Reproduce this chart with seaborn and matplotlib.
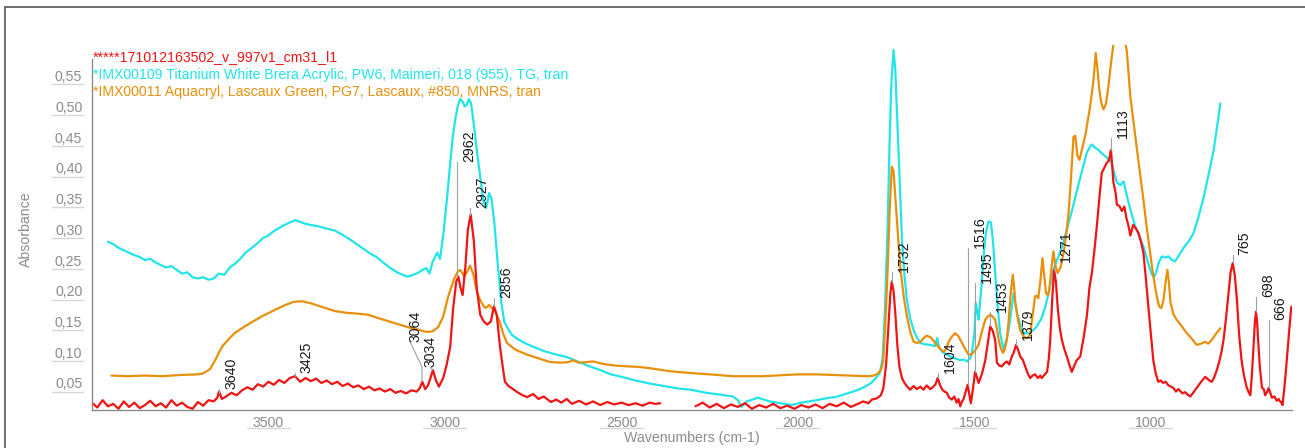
import numpy as np
import pandas as pd
import matplotlib
matplotlib.use("Agg")
import matplotlib.pyplot as plt
from matplotlib.lines import Line2D
from matplotlib.ticker import MultipleLocator, FixedLocator, FuncFormatter
import seaborn as sns

# ---------------- data ----------------
series_names = [
    "*****171012163502_v_997v1_cm31_l1",
    "*IMX00109 Titanium White Brera Acrylic, PW6, Maimeri, 018 (955), TG, tran",
    "*IMX00011 Aquacryl, Lascaux Green, PG7, Lascaux, #850, MNRS, tran",
]

# red sample spectrum, part before the CO2 gap
red_wn_1 = [4000, 3985, 3970, 3955, 3940, 3925, 3910, 3895, 3880, 3865, 3850, 3835, 3820, 3805, 3790,
            3775, 3760, 3745, 3730, 3715, 3700, 3685, 3670, 3655, 3645, 3640, 3632, 3620, 3605, 3590,
            3575, 3560, 3545, 3530, 3515, 3500, 3485, 3470, 3455, 3440, 3425, 3410, 3395, 3380, 3365,
            3350, 3335, 3320, 3305, 3290, 3275, 3260, 3245, 3230, 3215, 3200, 3185, 3170, 3155, 3140,
            3125, 3110, 3095, 3080, 3072, 3064, 3056, 3048, 3040, 3034, 3026, 3017, 3005, 2995, 2985,
            2977, 2968, 2962, 2956, 2950, 2942, 2935, 2927, 2918, 2910, 2900, 2890, 2880, 2870, 2861,
            2853, 2844, 2836, 2830, 2820, 2807, 2795, 2780, 2767, 2750, 2735, 2720, 2700, 2685, 2670,
            2655, 2640, 2620, 2600, 2580, 2560, 2540, 2520, 2500, 2480, 2460, 2440, 2420, 2405, 2390]
red_abs_1 = [.018, .010, .022, .012, .016, .008, .020, .011, .018, .009, .014, .021, .012, .017, .010,
             .022, .013, .018, .011, .008, .019, .013, .022, .020, .026, .036, .024, .028, .034, .030,
             .038, .043, .039, .048, .044, .052, .047, .055, .050, .058, .061, .052, .058, .053, .057,
             .050, .054, .048, .052, .045, .049, .043, .046, .040, .044, .038, .041, .036, .040, .034,
             .037, .033, .038, .036, .041, .052, .040, .046, .060, .071, .055, .044, .058, .080, .109,
             .170, .215, .223, .205, .193, .240, .300, .324, .280, .205, .161, .150, .145, .150, .175,
             .160, .109, .075, .052, .045, .040, .035, .030, .027, .032, .024, .028, .019, .023, .018,
             .024, .016, .021, .015, .020, .014, .019, .015, .018, .014, .017, .013, .018, .016, .017]

# red sample spectrum, part after the CO2 gap
red_wn_2 = [2290, 2270, 2250, 2230, 2210, 2190, 2170, 2150, 2130, 2110, 2090, 2070, 2050, 2030, 2010,
            1990, 1970, 1950, 1930, 1910, 1890, 1870, 1850, 1830, 1815, 1800, 1790, 1776, 1765, 1758,
            1750, 1743, 1738, 1734, 1729, 1724, 1718, 1712, 1705, 1698, 1690, 1682, 1672, 1663, 1653,
            1644, 1635, 1625, 1616, 1610, 1604, 1598, 1592, 1585, 1578, 1571, 1564, 1557, 1550, 1545,
            1540, 1535, 1531, 1525, 1519, 1514, 1510, 1504, 1498, 1493, 1488, 1483, 1479, 1474, 1469,
            1462, 1455, 1448, 1441, 1436, 1429, 1422, 1415, 1408, 1401, 1394, 1388, 1382, 1376, 1370,
            1363, 1356, 1349, 1342, 1335, 1328, 1320, 1313, 1309, 1302, 1294, 1289, 1285, 1279, 1274,
            1269, 1264, 1258, 1252, 1245, 1238, 1231, 1224, 1217, 1210, 1200, 1190, 1181, 1174, 1167,
            1160, 1153, 1146, 1139, 1132, 1125, 1119, 1113, 1109, 1106, 1100, 1096, 1089, 1082, 1075,
            1069, 1063, 1058, 1050, 1043, 1035, 1028, 1021, 1014, 1007, 1000, 993, 986, 979, 972,
            965, 958, 950, 943, 936, 929, 922, 917, 910, 903, 896, 888, 880, 870, 860,
            853, 846, 838, 832, 827, 820, 813, 806, 800, 794, 787, 780, 774, 768, 762,
            756, 750, 743, 736, 729, 723, 718, 714, 709, 705, 702, 699, 696, 691, 685,
            680, 676, 671, 666, 661, 657, 650, 643, 638, 634, 630, 627, 622, 618, 614,
            608, 602]
red_abs_2 = [.012, .018, .010, .016, .009, .015, .011, .017, .008, .014, .010, .016, .009, .013, .008,
             .014, .010, .015, .009, .016, .012, .018, .011, .016, .020, .017, .023, .025, .030, .041,
             .080, .148, .195, .215, .200, .164, .110, .075, .058, .050, .044, .039, .045, .040, .044,
             .039, .046, .040, .044, .048, .058, .048, .040, .036, .034, .026, .023, .028, .018, .024,
             .012, .020, .023, .035, .047, .030, .017, .040, .068, .060, .050, .058, .064, .075, .087,
             .115, .142, .135, .120, .083, .078, .077, .082, .085, .080, .093, .100, .112, .104, .093,
             .088, .077, .066, .058, .062, .064, .058, .062, .058, .063, .068, .090, .120, .190, .234,
             .215, .174, .140, .120, .105, .093, .080, .068, .078, .087, .093, .125, .160, .205, .229,
             .265, .305, .350, .392, .400, .408, .412, .429, .400, .376, .360, .340, .338, .330, .337,
             .318, .305, .290, .307, .302, .294, .280, .262, .220, .174, .130, .087, .065, .052, .054,
             .050, .052, .046, .044, .042, .036, .040, .037, .033, .035, .031, .028, .034, .042, .050,
             .055, .060, .056, .053, .052, .060, .071, .085, .100, .120, .155, .196, .230, .245, .225,
             .185, .130, .087, .062, .044, .035, .030, .060, .110, .150, .166, .150, .120, .075, .042,
             .040, .030, .035, .042, .033, .026, .028, .021, .024, .020, .018, .014, .040, .065, .093,
             .135, .174]

# cyan reference: Titanium White Brera Acrylic
cyan_wn = [3955, 3940, 3925, 3910, 3895, 3880, 3865, 3850, 3835, 3820, 3805, 3790, 3775, 3760, 3745,
           3730, 3715, 3700, 3685, 3670, 3655, 3641, 3625, 3610, 3595, 3580, 3565, 3547, 3530, 3515,
           3500, 3488, 3470, 3455, 3440, 3424, 3410, 3395, 3380, 3359, 3340, 3312, 3290, 3270, 3253,
           3230, 3210, 3194, 3175, 3155, 3135, 3120, 3106, 3090, 3077, 3063, 3053, 3044, 3035, 3028,
           3022, 3014, 3005, 2995, 2985, 2978, 2971, 2964, 2957, 2950, 2944, 2938, 2932, 2926, 2918,
           2910, 2900, 2891, 2883, 2875, 2868, 2860, 2849, 2840, 2832, 2824, 2810, 2790, 2770, 2750,
           2720, 2690, 2654, 2620, 2590, 2560, 2530, 2500, 2460, 2419, 2380, 2340, 2303, 2260, 2220,
           2184, 2170, 2160, 2145, 2113, 2080, 2050, 2018, 1990, 1947, 1920, 1887, 1860, 1828, 1810,
           1792, 1776, 1768, 1760, 1753, 1746, 1740, 1735, 1729, 1724, 1718, 1711, 1705, 1698, 1691,
           1682, 1672, 1663, 1653, 1640, 1625, 1612, 1605, 1600, 1590, 1580, 1568, 1555, 1540, 1530,
           1521, 1512, 1507, 1500, 1496, 1492, 1488, 1481, 1474, 1467, 1460, 1453, 1447, 1441, 1434,
           1427, 1417, 1410, 1403, 1396, 1389, 1384, 1379, 1370, 1360, 1346, 1335, 1323, 1310, 1299,
           1288, 1276, 1266, 1257, 1245, 1233, 1220, 1209, 1195, 1181, 1172, 1167, 1158, 1148, 1138,
           1129, 1120, 1111, 1103, 1096, 1086, 1077, 1070, 1063, 1053, 1044, 1032, 1021, 1010, 1002,
           996, 991, 985, 978, 969, 960, 950, 940, 931, 920, 907, 893, 879, 865, 850,
           836, 822, 812, 803]
cyan_abs = [.280, .276, .270, .266, .262, .258, .255, .250, .252, .246, .242, .238, .240, .234, .228,
            .230, .222, .220, .222, .218, .220, .228, .226, .238, .244, .252, .262, .270, .278, .286,
            .290, .296, .302, .307, .311, .315, .312, .309, .307, .305, .302, .298, .291, .284, .277,
            .268, .260, .255, .246, .237, .230, .226, .223, .226, .229, .234, .237, .228, .247, .255,
            .262, .252, .290, .345, .408, .450, .478, .500, .512, .508, .500, .503, .512, .505, .470,
            .430, .385, .345, .335, .359, .350, .310, .234, .180, .150, .141, .128, .120, .114, .109,
            .102, .097, .092, .084, .077, .071, .064, .060, .054, .049, .045, .041, .039, .034, .031,
            .028, .022, .011, .020, .026, .020, .017, .014, .018, .022, .025, .028, .033, .039, .044,
            .050, .060, .066, .090, .174, .300, .446, .540, .592, .560, .473, .370, .283, .225, .185,
            .155, .136, .124, .115, .113, .112, .110, .123, .108, .100, .097, .093, .090, .087, .088,
            .085, .090, .099, .130, .180, .168, .153, .200, .256, .295, .313, .311, .280, .229, .175,
            .131, .104, .118, .136, .165, .196, .180, .164, .145, .131, .131, .135, .142, .155, .174,
            .200, .234, .250, .262, .285, .310, .338, .364, .395, .425, .435, .438, .433, .429, .423,
            .419, .414, .408, .390, .376, .372, .378, .360, .343, .322, .305, .288, .272, .250, .234,
            .226, .222, .230, .245, .256, .254, .256, .250, .248, .258, .270, .280, .294, .320, .353,
            .390, .429, .468, .505]

# orange reference: Aquacryl, Lascaux Green
orange_wn = [3945, 3900, 3850, 3800, 3750, 3700, 3688, 3675, 3665, 3650, 3640, 3629, 3610, 3594, 3570,
             3547, 3520, 3488, 3460, 3429, 3405, 3382, 3350, 3312, 3277, 3250, 3218, 3180, 3135, 3100,
             3077, 3060, 3048, 3035, 3019, 3005, 2991, 2975, 2965, 2957, 2952, 2946, 2938, 2929, 2920,
             2909, 2898, 2886, 2880, 2875, 2867, 2858, 2845, 2835, 2824, 2800, 2767, 2735, 2702, 2670,
             2650, 2637, 2620, 2600, 2580, 2560, 2540, 2512, 2480, 2450, 2419, 2362, 2300, 2250, 2184,
             2100, 2000, 1947, 1900, 1850, 1804, 1785, 1774, 1764, 1758, 1752, 1746, 1740, 1734, 1729,
             1724, 1717, 1710, 1700, 1691, 1681, 1672, 1662, 1653, 1644, 1635, 1623, 1611, 1598, 1587,
             1580, 1573, 1563, 1554, 1545, 1535, 1525, 1516, 1507, 1498, 1488, 1478, 1469, 1462, 1455,
             1448, 1441, 1436, 1431, 1425, 1419, 1414, 1408, 1403, 1397, 1391, 1387, 1384, 1377, 1370,
             1362, 1354, 1348, 1342, 1335, 1328, 1323, 1319, 1313, 1307, 1302, 1297, 1292, 1288, 1282,
             1276, 1270, 1264, 1256, 1247, 1240, 1233, 1226, 1219, 1214, 1208, 1202, 1195, 1185, 1172,
             1163, 1156, 1151, 1146, 1140, 1134, 1127, 1120, 1113, 1106, 1098, 1090, 1077, 1068, 1058,
             1048, 1039, 1030, 1021, 1012, 1002, 995, 988, 982, 976, 970, 964, 958, 953, 949,
             944, 936, 927, 912, 898, 884, 870, 858, 846, 837, 825, 814, 803]
orange_abs = [.062, .061, .062, .061, .063, .064, .065, .069, .073, .088, .100, .111, .123, .132, .141,
              .149, .158, .167, .175, .182, .183, .180, .174, .167, .164, .163, .161, .154, .146, .140,
              .137, .134, .133, .134, .141, .158, .190, .218, .230, .234, .230, .223, .230, .241, .228,
              .197, .182, .172, .174, .177, .172, .167, .150, .130, .115, .104, .096, .090, .084, .083,
              .084, .087, .083, .084, .085, .082, .080, .078, .077, .076, .074, .069, .066, .064, .061,
              .061, .064, .064, .063, .062, .061, .062, .065, .072, .087, .150, .229, .330, .402, .395,
              .353, .295, .239, .190, .158, .132, .117, .115, .117, .123, .127, .124, .115, .106, .101,
              .105, .117, .126, .131, .126, .115, .104, .096, .097, .103, .112, .135, .153, .158, .161,
              .158, .153, .138, .120, .106, .099, .104, .120, .150, .196, .226, .205, .180, .155, .136,
              .127, .123, .124, .128, .160, .191, .192, .188, .215, .253, .225, .196, .193, .200, .235,
              .264, .240, .229, .238, .262, .290, .327, .385, .451, .452, .420, .413, .430, .455, .500,
              .540, .587, .560, .527, .505, .495, .505, .533, .570, .600, .630, .645, .620, .590, .516,
              .470, .429, .388, .348, .305, .262, .232, .207, .188, .174, .172, .185, .215, .234, .215,
              .180, .162, .153, .142, .131, .122, .112, .114, .117, .114, .122, .131, .139]

# peak labels on the sample spectrum
peak_labels = ["3640", "3425", "2962", "2927", "2856", "1732", "1604", "1516", "1495",
               "1453", "1379", "1271", "1113", "765", "698", "666"]
peak_wn = [3640, 3425, 2966, 2929, 2861, 1734, 1604, 1517, 1498, 1455, 1381, 1274, 1113, 768, 702, 666]
peak_abs = [0.034, 0.061, 0.223, 0.324, 0.175, 0.215, 0.058, 0.047, 0.068, 0.142, 0.112, 0.234,
            0.429, 0.245, 0.166, 0.042]
# two crowded labels with their own leader lines
extra_labels = ["3064", "3034"]
extra_peak_wn = [3065, 3034]
extra_peak_abs = [0.052, 0.071]

# ---------------- layout / style ----------------
label_top = [0.040, 0.066, 0.410, 0.335, 0.188, 0.231, 0.066, 0.270, 0.213, 0.166, 0.120, 0.247,
             0.449, 0.258, 0.190, 0.153]
extra_text_pos = [(3102, 0.117), (3062, 0.076)]

RED = "#f01414"
CYAN = "#22e4ea"
ORANGE = "#e8900c"
GREY_TXT = "#8c8c8c"
FS = 10.2

sns.set_style("white")
plt.rcParams["font.family"] = ["Liberation Sans", "DejaVu Sans"]

W, H = 1305, 448
fig = plt.figure(figsize=(W / 100, H / 100), dpi=100)
ax = fig.add_axes([92 / W, 38 / H, 1200 / W, 365 / H])

df_c = pd.DataFrame({"wn": cyan_wn, "A": cyan_abs})
df_o = pd.DataFrame({"wn": orange_wn, "A": orange_abs})
df_r1 = pd.DataFrame({"wn": red_wn_1, "A": red_abs_1})
df_r2 = pd.DataFrame({"wn": red_wn_2, "A": red_abs_2})

lw = 1.6
sns.lineplot(data=df_c, x="wn", y="A", color=CYAN, lw=lw, ax=ax, estimator=None, legend=False)
sns.lineplot(data=df_o, x="wn", y="A", color=ORANGE, lw=lw, ax=ax, estimator=None, legend=False)
sns.lineplot(data=df_r1, x="wn", y="A", color=RED, lw=lw, ax=ax, estimator=None, legend=False)
sns.lineplot(data=df_r2, x="wn", y="A", color=RED, lw=lw, ax=ax, estimator=None, legend=False)

ax.set_xlim(4000, 600)
ax.set_ylim(0.006, 0.600)

for s in ["top", "right"]:
    ax.spines[s].set_visible(False)
for s in ["left", "bottom"]:
    ax.spines[s].set_color("#8a8a8a")
    ax.spines[s].set_linewidth(1.0)
ax.spines["left"].set_bounds(0.006, 0.578)

ax.xaxis.set_major_locator(FixedLocator([3500, 3000, 2500, 2000, 1500, 1000]))
ax.xaxis.set_minor_locator(MultipleLocator(100))
ax.yaxis.set_major_locator(FixedLocator([0.05, 0.10, 0.15, 0.20, 0.25, 0.30, 0.35, 0.40, 0.45, 0.50, 0.55]))
ax.yaxis.set_minor_locator(FixedLocator([i / 100 for i in range(1, 58)]))
ax.yaxis.set_major_formatter(FuncFormatter(lambda v, p: f"{v:.2f}".replace(".", ",")))
ax.xaxis.set_major_formatter(FuncFormatter(lambda v, p: f"{v:.0f}"))

ax.tick_params(axis="both", which="major", direction="out", length=3, width=0.8,
               color="#8a8a8a", labelcolor=GREY_TXT, labelsize=FS)
ax.tick_params(axis="both", which="minor", direction="out", length=2, width=0.7, color="#9a9a9a")
ax.tick_params(axis="y", which="major", pad=4)
ax.tick_params(axis="x", which="major", pad=1.2)

ax.set_xlabel("Wavenumbers (cm-1)", fontsize=FS, color=GREY_TXT)
ax.set_ylabel("Absorbance", fontsize=FS, color=GREY_TXT)
ax.xaxis.set_label_coords(0.5, -0.058)
ax.yaxis.set_label_coords(-0.049, 0.4945)

# faint underlines beneath tick labels
xt = ax.get_xaxis_transform()
for v in [3500, 3000, 2500, 2000, 1500, 1000]:
    ax.plot([v - 61, v + 61], [-0.0500, -0.0500], transform=xt, color="#d6d6d6", lw=1.0, clip_on=False)
yt = ax.get_yaxis_transform()
for v in [0.05, 0.10, 0.15, 0.20, 0.25, 0.30, 0.35, 0.40, 0.45, 0.50, 0.55]:
    ax.plot([-0.0333, -0.0075], [v - 0.0142, v - 0.0142], transform=yt, color="#d6d6d6", lw=1.0, clip_on=False)

# peak annotations
for lab, pw, pa, ta in zip(peak_labels, peak_wn, peak_abs, label_top):
    ax.plot([pw, pw], [pa, ta], color="#a0a0a0", lw=0.8)
    ax.annotate(lab, xy=(pw, ta), xytext=(3.6, 0), textcoords="offset points", rotation=90,
                ha="left", va="bottom", fontsize=FS, color="#1a1a1a")
# crowded labels
ax.plot([extra_peak_wn[0], extra_peak_wn[0], extra_text_pos[0][0] - 3],
        [extra_peak_abs[0], 0.076, extra_text_pos[0][1]], color="#a0a0a0", lw=0.8)
ax.plot([extra_peak_wn[1], extra_text_pos[1][0] - 20], [extra_peak_abs[1], extra_text_pos[1][1]],
        color="#a0a0a0", lw=0.8)
for lab, (tw, ta) in zip(extra_labels, extra_text_pos):
    ax.text(tw, ta, lab, rotation=90, ha="left", va="bottom", fontsize=FS, color="#1a1a1a")

# legend as coloured text lines
for name, col, yp in zip(series_names, [RED, CYAN, ORANGE], [57.3, 75.0, 92.3]):
    fig.text(93 / W, 1 - yp / H, name, color=col, fontsize=FS, ha="left", va="center")

# screenshot frame (top and left edges)
fig.add_artist(Line2D([5 / W, 1.0], [1 - 7 / H, 1 - 7 / H], transform=fig.transFigure, color="#555555", lw=1.2))
fig.add_artist(Line2D([5 / W, 5 / W], [0.0, 1 - 7 / H], transform=fig.transFigure, color="#555555", lw=1.2))

fig.savefig("out.png", dpi=100)
